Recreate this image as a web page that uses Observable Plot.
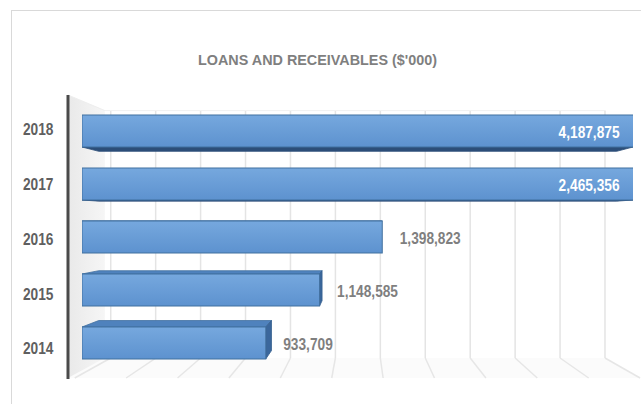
<!DOCTYPE html>
<html><head><meta charset="utf-8">
<script src="https://cdn.jsdelivr.net/npm/d3@7"></script>
<script src="https://cdn.jsdelivr.net/npm/@observablehq/plot@0.6"></script>
<style>
html,body{margin:0;padding:0;background:#fff;}
#chart svg{display:block;}
</style></head><body><div id="chart"></div>
<script>
// ---- data ----
const years = [2018, 2017, 2016, 2015, 2014];
const values = [4187875, 2465356, 1398823, 1148585, 933709];
const valueLabels = ["4,187,875", "2,465,356", "1,398,823", "1,148,585", "933,709"];
const axisMin = 200000;
const axisMax = 2400000;
const gridValues = [200000, 400000, 600000, 800000, 1000000, 1200000, 1400000, 1600000, 1800000, 2000000, 2200000, 2400000];
const titleText = "LOANS AND RECEIVABLES ($'000)";

const data = years.map((year, i) => ({year, value: values[i], label: valueLabels[i]}));

const SANS = "'Liberation Sans', Arial, sans-serif";

const chart = Plot.plot({
  width: 641, height: 404,
  marginLeft: 82, marginRight: 8, marginTop: 92, marginBottom: 22,
  style: {background: "transparent", overflow: "visible"},
  x: {domain: [axisMin, axisMax], axis: null},
  y: {domain: years, padding: 0.39, axis: null},
  marks: [
    Plot.barX(data, {y: "year", x1: () => axisMin, x2: "value", fill: "url(#barFront)", stroke: "#41709f", strokeWidth: 1, clip: true}),
    Plot.text(data, {y: "year", frameAnchor: "left", dx: -29, text: d => String(d.year), textAnchor: "end",
      fill: "#5f5f5f", fontSize: 16.5, fontWeight: "bold", fontFamily: SANS}),
    Plot.text(data.filter(d => d.value > axisMax), {y: "year", x: () => axisMax, text: "label", textAnchor: "end", dx: -14, dy: 1.5,
      fill: "#ffffff", fontSize: 16.5, fontWeight: "bold", fontFamily: SANS}),
    Plot.text(data.filter(d => d.value <= axisMax), {y: "year", x: "value", text: "label", textAnchor: "start", dx: 17, dy: 1.5,
      fill: "#7f7f7f", fontSize: 16.5, fontWeight: "bold", fontFamily: SANS})
  ]
});
document.getElementById("chart").appendChild(chart);

// ---- 3D decoration using Plot's scales ----
const svgNode = chart.tagName.toLowerCase() === "svg" ? chart : chart.querySelector("svg");
const svg = d3.select(svgNode);
const xs = chart.scale("x"), ys = chart.scale("y");
const X = v => xs.apply(v);
const Y = v => ys.apply(v);
const bw = ys.bandwidth;

const VP = [361, 219];          // vanishing point
const sBack = 0.897, sFront = 1.026, sBar = 0.94;
const proj = (x, y, s) => [VP[0] + (x - VP[0]) * s, VP[1] + (y - VP[1]) * s];
const pts = a => a.map(p => p.join(",")).join(" ");

// gradients
const defs = svg.append("defs");
const g1 = defs.append("linearGradient").attr("id", "barFront").attr("x1", 0).attr("y1", 0).attr("x2", 0).attr("y2", 1);
g1.append("stop").attr("offset", "0%").attr("stop-color", "#76a8de");
g1.append("stop").attr("offset", "100%").attr("stop-color", "#5d92cf");
const g2 = defs.append("linearGradient").attr("id", "leftWall").attr("x1", 0).attr("y1", 0).attr("x2", 1).attr("y2", 0);
g2.append("stop").attr("offset", "0%").attr("stop-color", "#e9e9e9");
g2.append("stop").attr("offset", "100%").attr("stop-color", "#f6f6f6");

// frame (front plane) corners
const fL = 68, fT = 95, fB = 378;
const fR = proj(X(axisMax), 0, sFront)[0];
const r = sBack / sFront;
const bg = svg.insert("g", ":first-child");
bg.append("rect").attr("x", 11.5).attr("y", 10.5).attr("width", 660).attr("height", 420)
  .attr("fill", "#fff").attr("stroke", "#d9d9d9");
bg.append("polygon").attr("points", pts([[fL, fB], [fR, fB], proj(fR, fB, r), proj(fL, fB, r)]))
  .attr("fill", "#fbfbfb");
bg.append("polygon").attr("points", pts([[fL, fT], [fL, fB], proj(fL, fB, r), proj(fL, fT, r)]))
  .attr("fill", "url(#leftWall)");
const bt = proj(fL, fT, r)[1], bb = proj(fL, fB, r)[1];
for (const v of gridValues) {
  const bx = proj(X(v), 0, sBack)[0];
  const fx = proj(X(v), 0, sFront)[0];
  bg.append("line").attr("x1", bx).attr("x2", bx).attr("y1", bt).attr("y2", bb)
    .attr("stroke", "#e4e4e4").attr("stroke-width", 1.5);
  bg.append("line").attr("x1", bx).attr("x2", fx).attr("y1", bb).attr("y2", fB)
    .attr("stroke", "#e6e6e6").attr("stroke-width", 1.5);
}
bg.append("line").attr("x1", proj(fL, fT, r)[0]).attr("x2", proj(fR, fT, r)[0]).attr("y1", bt).attr("y2", bt)
  .attr("stroke", "#f1f1f1").attr("stroke-width", 1);
bg.append("line").attr("x1", fL).attr("y1", fT).attr("x2", proj(fL, fT, r)[0]).attr("y2", bt)
  .attr("stroke", "#eeeeee").attr("stroke-width", 1);

// bar side faces
const barNode = svg.select('g[aria-label="bar"]').node();
const faces = document.createElementNS("http://www.w3.org/2000/svg", "g");
svgNode.insertBefore(faces, barNode);
const fg = d3.select(faces);
for (const d of data) {
  const x0 = X(axisMin), x1 = X(Math.min(d.value, axisMax));
  const yt = Y(d.year), yb = yt + bw;
  if (yt > VP[1]) fg.append("polygon").attr("points", pts([[x0, yt], [x1, yt], proj(x1, yt, sBar), proj(x0, yt, sBar)]))
    .attr("fill", "#4f82bd").attr("stroke", "#41709f").attr("stroke-width", 0.8);
  if (yb < VP[1]) fg.append("polygon").attr("points", pts([[x0, yb], [x1, yb], proj(x1, yb, sBar), proj(x0, yb, sBar)]))
    .attr("fill", "#2c4e78").attr("stroke", "#2c4e78").attr("stroke-width", 0.8);
  if (x1 < VP[0]) fg.append("polygon").attr("points", pts([[x1, yt], [x1, yb], proj(x1, yb, sBar), proj(x1, yt, sBar)]))
    .attr("fill", "#3b679c").attr("stroke", "#35608f").attr("stroke-width", 0.8);
}

svg.append("line").attr("x1", fL).attr("x2", fL).attr("y1", fT).attr("y2", fB + 1)
  .attr("stroke", "#4a4a4a").attr("stroke-width", 3);

// condensed look for labels + perspective spread of year labels
const textGroups = svg.selectAll('g[aria-label="text"]').nodes();
textGroups.forEach((gNode, gi) => {
  d3.select(gNode).selectAll("text").each(function(_, i) {
    const w = this.getComputedTextLength();
    this.setAttribute("textLength", (w * 0.83).toFixed(1));
    this.setAttribute("lengthAdjust", "spacingAndGlyphs");
    if (gi === 0) {
      const c = Y(data[i].year) + bw / 2;
      const off = (c - 183) * 0.035;
      const t = this.getAttribute("transform") || "";
      this.setAttribute("transform", t + ` translate(0,${off})`);
    }
  });
});

const title = svg.append("text").attr("x", 317.5).attr("y", 64.5).attr("text-anchor", "middle")
  .attr("font-family", SANS).attr("font-weight", "bold").attr("font-size", 15)
  .attr("fill", "#7f7f7f").text(titleText);
title.attr("textLength", 239).attr("lengthAdjust", "spacingAndGlyphs");
</script></body></html>
